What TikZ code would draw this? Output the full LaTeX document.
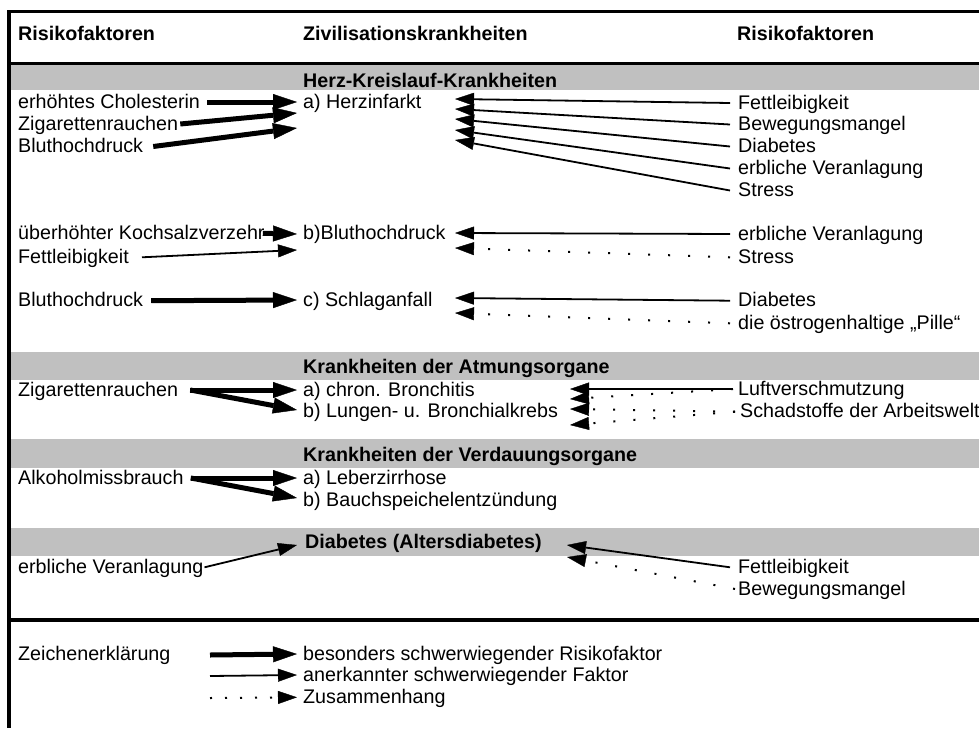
\documentclass[tikz,border=0pt]{standalone}
\usepackage{fontspec}
\setmainfont{Liberation Sans}
\usetikzlibrary{arrows.meta}
\definecolor{band}{RGB}{192,192,192}
\begin{document}
\begin{tikzpicture}[x=1pt,y=-1pt,
  txt/.style={anchor=base west, inner sep=0pt, text height=13pt, text depth=1pt, font=\fontsize{19.7}{22}\selectfont},
  hd/.style={txt, font=\fontsize{19.7}{22}\selectfont\bfseries},
  heavy/.style={line width=5pt, -{Triangle[length=24pt,width=16pt,line width=0.4pt]}},
  light/.style={line width=1.8pt, -{Triangle[length=19pt,width=13pt,line width=0.4pt]}},
  dots/.style={line width=2pt, dash pattern=on 2pt off 18pt, -{Triangle[length=19pt,width=13pt,line width=0.4pt]}},
  ldots/.style={line width=2pt, dash pattern=on 2pt off 13pt, -{Triangle[length=19pt,width=13pt,line width=0.4pt]}},
]
\useasboundingbox (0,0) rectangle (979,728);
% bands and frame
\fill[band] (10.5,64.5) rectangle (979,90);
\fill[band] (10.5,352) rectangle (979,380);
\fill[band] (10.5,439) rectangle (979,468);
\fill[band] (10.5,528) rectangle (979,556);
\draw[line width=3pt] (7.5,11.5) -- (979,11.5);
\draw[line width=3pt] (9,63) -- (979,63);
\draw[line width=3.5pt] (9,620) -- (979,620);
\draw[line width=3.5pt] (9,10) -- (9,728);

% headers
\node[hd] (hl) at (18,40.7) {Risikofaktoren};
\node[hd] (hm) at (303,40.7) {Zivilisationskrankheiten};
\node[hd] (hr) at (737,40.7) {Risikofaktoren};
\node[hd] (B1) at (303,87) {Herz-Kreislauf-Krankheiten};
\node[hd] (B2) at (303,373.3) {Krankheiten der Atmungsorgane};
\node[hd] (B3) at (303,461.7) {Krankheiten der Verdauungsorgane};
\node[hd] (B4) at (305,548.3) {Diabetes (Altersdiabetes)};

% left column
\node[txt] (L1) at (18,108) {erhöhtes Cholesterin};
\node[txt] (L2) at (18,130) {Zigarettenrauchen};
\node[txt] (L3) at (18,152.5) {Bluthochdruck};
\node[txt] (L4) at (18,239.3) {überhöhter Kochsalzverzehr};
\node[txt] (L5) at (18,263.3) {Fettleibigkeit};
\node[txt] (L6) at (18,306.7) {Bluthochdruck};
\node[txt] (L7) at (18,396) {Zigarettenrauchen};
\node[txt] (L8) at (18,484) {Alkoholmissbrauch};
\node[txt] (L9) at (18,573.3) {erbliche Veranlagung};
\node[txt] (Z) at (18,660) {Zeichenerklärung};

% middle column
\node[txt] (M1) at (303,108) {a) Herzinfarkt};
\node[txt] (M2) at (303,239.3) {b)Bluthochdruck};
\node[txt] (M3) at (303,306.7) {c) Schlaganfall};
\node[txt] (M4) at (303,396) {a) chron. Bronchitis};
\node[txt] (M5) at (303,417.7) {b) Lungen- u. Bronchialkrebs};
\node[txt] (M6) at (303,484) {a) Leberzirrhose};
\node[txt] (M7) at (303,506.7) {b) Bauchspeichelentzündung};
\node[txt] (G1) at (303,660) {besonders schwerwiegender Risikofaktor};
\node[txt] (G2) at (303,681) {anerkannter schwerwiegender Faktor};
\node[txt] (G3) at (303,703.3) {Zusammenhang};

% right column
\node[txt] (R1) at (738,109) {Fettleibigkeit};
\node[txt] (R2) at (738,130.5) {Bewegungsmangel};
\node[txt] (R3) at (738,152.5) {Diabetes};
\node[txt] (R4) at (738,174.5) {erbliche Veranlagung};
\node[txt] (R5) at (738,196.5) {Stress};
\node[txt] (R6) at (738,240) {erbliche Veranlagung};
\node[txt] (R7) at (738,263.3) {Stress};
\node[txt] (R8) at (738,306.7) {Diabetes};
\node[txt] (R9) at (738,329.3) {die östrogenhaltige „Pille“};
\node[txt] (R10) at (738,395) {Luftverschmutzung};
\node[txt] (R11) at (740,417.7) {Schadstoffe der Arbeitswelt};
\node[txt] (R12) at (738,573.3) {Fettleibigkeit};
\node[txt] (R13) at (738,595) {Bewegungsmangel};

% arrow tip coordinates (left side)
\coordinate (t1) at (297,102);
\coordinate (t2) at (297,113);
\coordinate (t3) at (297,128);
\coordinate (t4) at (297,234);
\coordinate (t5) at (297,250);
\coordinate (t6) at (297,300);
\coordinate (t7) at (297,390);
\coordinate (t8) at (297,410);
\coordinate (t9) at (297,478);
\coordinate (t10) at (297,498);
\coordinate (t11) at (297,545);
% arrow tip coordinates (right side)
\coordinate (h1) at (455,99);
\coordinate (h2) at (455,109);
\coordinate (h3) at (455,119);
\coordinate (h4) at (455,130);
\coordinate (h5) at (455,140);
\coordinate (h6) at (455,233);
\coordinate (h7) at (455,248);
\coordinate (h8) at (455,298);
\coordinate (h9) at (455,313);
\coordinate (h10) at (570,389);
\coordinate (h11) at (570,399);
\coordinate (h12) at (570,409);
\coordinate (h13) at (570,425);
\coordinate (h14) at (567,545);
\coordinate (h15) at (567,557);

% left arrows
\draw[heavy] ([xshift=7pt]L1.east) -- (t1);
\draw[heavy] ([xshift=2pt]L2.east) -- (t2);
\draw[heavy] ([xshift=10pt]L3.east) -- (t3);
\draw[heavy] ([xshift=-2pt]L4.east) -- (t4);
\draw[light] ([xshift=13pt]L5.east) -- (t5);
\draw[heavy] ([xshift=8pt]L6.east) -- (t6);
\draw[heavy] ([xshift=12pt]L7.east) -- (t7);
\draw[heavy] ([xshift=12pt]L7.east) -- (t8);
\draw[heavy] ([xshift=7pt]L8.east) -- (t9);
\draw[heavy] ([xshift=7pt]L8.east) -- (t10);
\draw[light] ([xshift=1pt]L9.east) -- (t11);

% right arrows
\draw[light] ([xshift=-8pt]R1.west) -- (h1);
\draw[light] ([xshift=-8pt]R2.west) -- (h2);
\draw[light] ([xshift=-8pt]R3.west) -- (h3);
\draw[light] ([xshift=-8pt]R4.west) -- (h4);
\draw[light] ([xshift=-8pt]R5.west) -- (h5);
\draw[light] ([xshift=-8pt]R6.west) -- (h6);
\draw[dots] ([xshift=-8pt]R7.west) -- (h7);
\draw[light] ([xshift=-8pt]R8.west) -- (h8);
\draw[dots] ([xshift=-8pt]R9.west) -- (h9);
\draw[light] ([xshift=-5pt]R10.west) -- (h10);
\draw[dots] ([xshift=-5pt]R10.west) -- (h11);
\draw[dots] ([xshift=-5pt]R11.west) -- (h12);
\draw[dots] ([xshift=-5pt]R11.west) -- (h13);
\draw[light] ([xshift=-8pt]R12.west) -- (h14);
\draw[dots] ([xshift=-3pt]R13.west) -- (h15);

% legend
\coordinate (g1) at (210,655);
\coordinate (g2) at (210,676);
\coordinate (g3) at (210,698);
\draw[heavy] (g1) -- ([xshift=-6pt]G1.west);
\draw[light] (g2) -- ([xshift=-6pt]G2.west);
\draw[ldots] (g3) -- ([xshift=-6pt]G3.west);
\end{tikzpicture}
\end{document}
